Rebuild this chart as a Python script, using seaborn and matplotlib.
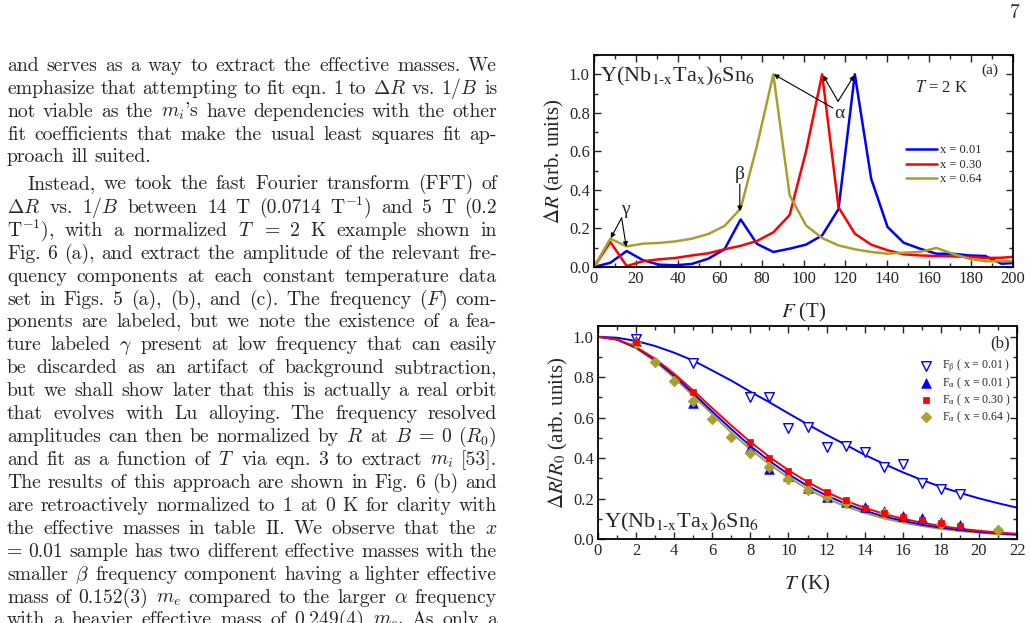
import matplotlib
matplotlib.use("Agg")
import matplotlib.pyplot as plt
import pandas as pd
import seaborn as sns
from matplotlib.ticker import MultipleLocator

# ---------------- panel (a): normalized FFT amplitude at T = 2 K ----------------
F_T = [0, 7.8, 15.6, 23.4, 31.1, 38.9, 46.7, 54.5, 62.3, 70.0, 77.8, 85.6, 93.4,
       101.2, 108.9, 116.7, 124.5, 132.3, 140.1, 147.8, 155.6, 163.4, 171.2,
       179.0, 186.8, 194.5, 202.3]
fft_x001 = [0, 0.022, 0.083, 0.035, 0.012, 0.009, 0.016, 0.043, 0.092, 0.247, 0.12,
            0.078, 0.095, 0.116, 0.164, 0.30, 1.0, 0.458, 0.208, 0.126, 0.095,
            0.069, 0.069, 0.06, 0.057, 0.017, 0.022]
fft_x030 = [0, 0.13, 0.005, 0.03, 0.04, 0.047, 0.06, 0.071, 0.092, 0.11, 0.135,
            0.18, 0.27, 0.6, 1.0, 0.31, 0.173, 0.116, 0.087, 0.066, 0.06, 0.057,
            0.055, 0.052, 0.047, 0.048, 0.055]
fft_x064 = [0, 0.147, 0.107, 0.121, 0.125, 0.133, 0.147, 0.171, 0.213, 0.303, 0.63,
            1.0, 0.372, 0.216, 0.15, 0.112, 0.092, 0.078, 0.069, 0.074, 0.078,
            0.099, 0.069, 0.043, 0.03, 0.03, 0.03]
labels_a = ["x = 0.01", "x = 0.30", "x = 0.64"]

# ---------------- panel (b): amplitude vs temperature ----------------
T_beta001 = [2, 5, 8, 9, 10, 11, 12, 13, 14, 15, 16, 17, 18, 19]
amp_beta001 = [0.99, 0.87, 0.703, 0.703, 0.55, 0.552, 0.456, 0.46, 0.428, 0.357,
               0.37, 0.275, 0.247, 0.222]
T_alpha001 = [2, 5, 8, 9, 10, 11, 12, 13, 14, 15, 16, 17, 18, 19]
amp_alpha001 = [0.98, 0.674, 0.45, 0.346, 0.31, 0.25, 0.21, 0.185, 0.157, 0.138,
                0.114, 0.104, 0.084, 0.069]
T_alpha030 = [2, 5, 8, 9, 10, 11, 12, 13, 14, 15, 16, 17, 18, 19]
amp_alpha030 = [0.975, 0.725, 0.478, 0.402, 0.336, 0.283, 0.232, 0.193, 0.152,
                0.127, 0.109, 0.094, 0.077, 0.064]
T_alpha064 = [2, 3, 4, 5, 6, 7, 8, 9, 10, 11, 12, 13, 15, 18, 21]
amp_alpha064 = [0.97, 0.873, 0.782, 0.682, 0.591, 0.502, 0.427, 0.357, 0.297,
                0.242, 0.209, 0.176, 0.127, 0.075, 0.043]

# fit curves every 1 K
T_fit = list(range(0, 23))
fit_beta001 = [1.0, 0.995, 0.979, 0.954, 0.921, 0.882, 0.833, 0.783, 0.728, 0.676,
               0.621, 0.567, 0.515, 0.466, 0.416, 0.372, 0.330, 0.292, 0.258,
               0.228, 0.201, 0.177, 0.155]
fit_alpha001 = [1.0, 0.986, 0.946, 0.885, 0.807, 0.720, 0.630, 0.543, 0.460, 0.386,
                0.320, 0.263, 0.215, 0.174, 0.140, 0.112, 0.090, 0.071, 0.056,
                0.045, 0.035, 0.028, 0.022]
fit_alpha030 = [1.0, 0.987, 0.949, 0.891, 0.817, 0.734, 0.647, 0.561, 0.480, 0.406,
                0.340, 0.282, 0.232, 0.189, 0.154, 0.125, 0.100, 0.081, 0.064,
                0.051, 0.041, 0.032, 0.026]
fit_alpha064 = [1.0, 0.985, 0.943, 0.878, 0.797, 0.708, 0.616, 0.526, 0.443, 0.369,
                0.304, 0.248, 0.200, 0.161, 0.129, 0.102, 0.081, 0.064, 0.050,
                0.039, 0.031, 0.024, 0.019]

BLUE = "#0000ff"
RED = "#ff0000"
OLIVE = "#a99f2e"

sns.set_style("ticks")
plt.rcParams["font.family"] = ["Liberation Serif", "DejaVu Serif"]
plt.rcParams["axes.unicode_minus"] = False
plt.rcParams["xtick.direction"] = "in"
plt.rcParams["ytick.direction"] = "in"

W, H = 1031, 623
fig = plt.figure(figsize=(W / 100, H / 100), dpi=100)
fig.patch.set_facecolor("white")

ax_a = fig.add_axes([594 / W, 1 - 267 / H, 419 / W, 212 / H])
ax_b = fig.add_axes([598 / W, 1 - 539 / H, 419 / W, 213 / H])

# ---- panel (a)
df_a = pd.DataFrame({
    "F": F_T * 3,
    "amp": fft_x001 + fft_x030 + fft_x064,
    "x": [labels_a[0]] * len(F_T) + [labels_a[1]] * len(F_T) + [labels_a[2]] * len(F_T),
})
sns.lineplot(data=df_a, x="F", y="amp", hue="x", palette=[BLUE, RED, OLIVE],
             lw=1.8, ax=ax_a, sort=False)
h, l = ax_a.get_legend_handles_labels()
ax_a.legend(h, l, loc="upper left", bbox_to_anchor=(0.745, 0.578), frameon=False,
            fontsize=9, handlelength=2.5, handletextpad=0.2, labelspacing=0.2,
            borderpad=0, borderaxespad=0)
ax_a.set_xlim(0, 200)
ax_a.set_ylim(0, 1.1)
ax_a.xaxis.set_major_locator(MultipleLocator(20))
ax_a.xaxis.set_minor_locator(MultipleLocator(10))
ax_a.yaxis.set_major_locator(MultipleLocator(0.2))
ax_a.yaxis.set_minor_locator(MultipleLocator(0.1))
ax_a.set_xlabel("$F$ (T)", fontsize=15, math_fontfamily="stix", labelpad=10)
ax_a.set_ylabel(r"$\Delta R$ (arb. units)", fontsize=15, math_fontfamily="stix", labelpad=2)

ax_a.text(0.014, 0.877, r"Y(Nb$_{\mathrm{1\text{-}x}}$Ta$_{\mathrm{x}}$)$_6$Sn$_6$",
          transform=ax_a.transAxes, fontsize=16, math_fontfamily="stix", va="baseline")
ax_a.text(0.945, 0.93, "(a)", transform=ax_a.transAxes, fontsize=11, ha="center", va="center")
ax_a.text(0.83, 0.845, "$T$ = 2 K", transform=ax_a.transAxes, fontsize=12,
          math_fontfamily="stix", ha="center", va="center")

arw = dict(arrowstyle="-|>", color="black", lw=0.8, mutation_scale=7, shrinkA=0, shrinkB=0)
ax_a.text(117, 0.795, "α", fontsize=14, ha="center", va="center")
ax_a.annotate("", xy=(85.8, 1.0), xytext=(114, 0.825), arrowprops=arw)
ax_a.annotate("", xy=(109.3, 0.995), xytext=(116.5, 0.86), arrowprops=arw)
ax_a.annotate("", xy=(124.3, 0.995), xytext=(116.5, 0.86), arrowprops=arw)
ax_a.text(69.6, 0.48, "β", fontsize=14, ha="center", va="center")
ax_a.annotate("", xy=(69.6, 0.29), xytext=(69.6, 0.43), arrowprops=arw)
ax_a.text(14.8, 0.30, "γ", fontsize=14, ha="center", va="center")
ax_a.annotate("", xy=(8.0, 0.15), xytext=(13.2, 0.255), arrowprops=arw)
ax_a.annotate("", xy=(15.4, 0.105), xytext=(13.2, 0.255), arrowprops=arw)

# ---- panel (b)
for y, c in [(fit_beta001, BLUE), (fit_alpha064, OLIVE), (fit_alpha001, BLUE), (fit_alpha030, RED)]:
    sns.lineplot(x=T_fit, y=y, color=c, lw=1.4, ax=ax_b, zorder=2)

sns.scatterplot(x=T_beta001, y=amp_beta001, marker="v", s=48, color="white",
                edgecolor=BLUE, linewidth=1.0, ax=ax_b, zorder=3,
                label=r"F$_{\mathrm{\beta}}$ ( x = 0.01 )")
sns.scatterplot(x=T_alpha001, y=amp_alpha001, marker="^", s=48, color=BLUE,
                edgecolor=BLUE, linewidth=0.5, ax=ax_b, zorder=3,
                label=r"F$_{\mathrm{\alpha}}$ ( x = 0.01 )")
sns.scatterplot(x=T_alpha030, y=amp_alpha030, marker="s", s=24, color=RED,
                edgecolor=RED, linewidth=0.5, ax=ax_b, zorder=4,
                label=r"F$_{\mathrm{\alpha}}$ ( x = 0.30 )")
sns.scatterplot(x=T_alpha064, y=amp_alpha064, marker="D", s=30, color=OLIVE,
                edgecolor=OLIVE, linewidth=0.5, ax=ax_b, zorder=3,
                label=r"F$_{\mathrm{\alpha}}$ ( x = 0.64 )")
h, l = ax_b.get_legend_handles_labels()
ax_b.legend(h, l, loc="upper left", bbox_to_anchor=(0.768, 0.85), frameon=False,
            handlelength=1.0, handletextpad=0.9, labelspacing=0.12,
            borderpad=0, borderaxespad=0, prop={"size": 8.5, "math_fontfamily": "stix"})
ax_b.set_xlim(0, 22)
ax_b.set_ylim(0, 1.053)
ax_b.xaxis.set_major_locator(MultipleLocator(2))
ax_b.xaxis.set_minor_locator(MultipleLocator(1))
ax_b.yaxis.set_major_locator(MultipleLocator(0.2))
ax_b.yaxis.set_minor_locator(MultipleLocator(0.1))
ax_b.set_xlabel("$T$ (K)", fontsize=15, math_fontfamily="stix", labelpad=10)
ax_b.set_ylabel(r"$\Delta R/R_0$ (arb. units)", fontsize=15, math_fontfamily="stix", labelpad=2)
ax_b.text(0.959, 0.92, "(b)", transform=ax_b.transAxes, fontsize=12, ha="center", va="center")
ax_b.text(0.014, 0.056, r"Y(Nb$_{\mathrm{1\text{-}x}}$Ta$_{\mathrm{x}}$)$_6$Sn$_6$",
          transform=ax_b.transAxes, fontsize=16, math_fontfamily="stix", va="baseline")

for ax in (ax_a, ax_b):
    ax.tick_params(which="both", direction="in", top=True, right=True, width=1.0,
                   labelsize=12, pad=3)
    ax.tick_params(which="major", length=5)
    ax.tick_params(which="minor", length=3)
    for sp in ax.spines.values():
        sp.set_linewidth(1.3)
        sp.set_color("black")

# ---------------- left column of the page text ----------------
body_lines = [
    ("and serves as a way to extract the effective masses.  We", True),
    (r"emphasize that attempting to fit eqn. 1 to $\Delta{}R$ vs. $1/B$ is", True),
    (r"not viable as the $m_i$'s have dependencies with the other", True),
    ("fit coefficients that make the usual least squares fit ap-", True),
    ("proach ill suited.", False),
    ("Instead, we took the fast Fourier transform (FFT) of", True),
    (r"$\Delta{}R$ vs.  $1/B$ between 14 T (0.0714 T$^{-1}$) and 5 T (0.2", True),
    (r"T$^{-1}$), with a normalized $T$ = 2 K example shown in", True),
    ("Fig. 6 (a), and extract the amplitude of the relevant fre-", True),
    ("quency components at each constant temperature data", True),
    (r"set in Figs. 5 (a), (b), and (c).  The frequency ($F$) com-", True),
    ("ponents are labeled, but we note the existence of a fea-", True),
    (r"ture labeled $\gamma$ present at low frequency that can easily", True),
    ("be discarded as an artifact of background subtraction,", True),
    ("but we shall show later that this is actually a real orbit", True),
    ("that evolves with Lu alloying.  The frequency resolved", True),
    (r"amplitudes can then be normalized by $R$ at $B$ = 0 ($R_0$)", True),
    (r"and fit as a function of $T$ via eqn. 3 to extract $m_i$ [53].", True),
    ("The results of this approach are shown in Fig. 6 (b) and", True),
    ("are retroactively normalized to 1 at 0 K for clarity with", True),
    (r"the effective masses in table II.  We observe that the $x$", True),
    ("= 0.01 sample has two different effective masses with the", True),
    (r"smaller $\beta$ frequency component having a lighter effective", True),
    (r"mass of 0.152(3) $m_e$ compared to the larger $\alpha$ frequency", True),
    (r"with a heavier effective mass of 0.249(4) $m_e$.  As only a", True),
]
baselines = [71, 94, 117, 140, 162, 189, 213, 236, 259, 282, 305, 327, 350, 373,
             396, 419, 442, 465, 488, 511, 534, 557, 580, 603, 625]

FS = 14.2
renderer = fig.canvas.get_renderer()
x_left, x_right = 7, 497
for (line, justify), yb in zip(body_lines, baselines):
    x0 = 27 if line.startswith("Instead") else x_left
    words = line.split()
    texts = [fig.text(0, 1 - yb / H, w, fontsize=FS, family="cmr10",
                      math_fontfamily="cm", va="baseline") for w in words]
    widths = [t.get_window_extent(renderer).width for t in texts]
    if justify and len(words) > 1:
        gap = (x_right - x0 - sum(widths)) / (len(words) - 1)
    else:
        gap = FS * 100 / 72 * 0.33
    x = x0
    for t, w in zip(texts, widths):
        t.set_x(x / W)
        x += w + gap

fig.text(1015 / W, 1 - 13 / H, "7", fontsize=FS, family="cmr10", ha="center", va="center")

fig.savefig("out.png", dpi=100, facecolor="white")
